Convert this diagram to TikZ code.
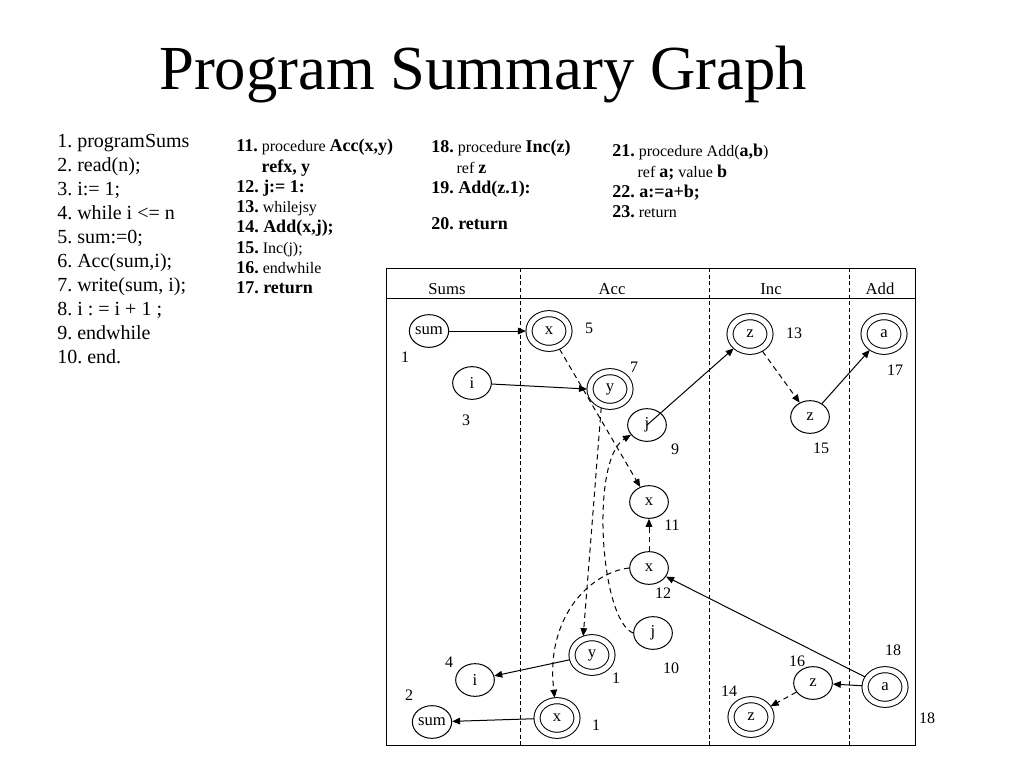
\documentclass[tikz,border=0pt]{standalone}
\usepackage{fontspec}
\setmainfont{Liberation Serif}
\usetikzlibrary{shapes.geometric,arrows.meta,positioning}
\newcommand{\B}[1]{{\fontsize{13.5}{15.2}\selectfont\bfseries #1}}
\frenchspacing

\begin{document}
\begin{tikzpicture}[
  x=0.75pt, y=-0.75pt,
  var/.style={ellipse, draw, line width=0.75pt, minimum width=29pt, minimum height=24.5pt, inner sep=0pt, font=\fontsize{12.5}{13}\selectfont},
  formal/.style={var, double, double distance=3.8pt, minimum width=30pt, minimum height=26pt, outer sep=2.3pt},
  lbl/.style={font=\fontsize{12}{14}\selectfont, inner sep=0pt},
  head/.style={font=\fontsize{12.5}{14}\selectfont, inner sep=0pt},
  flow/.style={draw, line width=0.75pt, -{Triangle[length=6pt,width=5pt]}},
  summ/.style={flow, dash pattern=on 4pt off 3pt},
  code/.style={anchor=north west, align=left, inner sep=0pt}
]
\useasboundingbox (0,0) rectangle (1024,768);

% title and source text
\node[font=\fontsize{47}{56}\selectfont] (title) at (483,75) {Program Summary Graph};
\node[code, font=\fontsize{15}{18}\selectfont] (prog) at (57,134) {1. programSums\\2. read(n);\\3. i:= 1;\\4. while i <= n\\5. sum:=0;\\6. Acc(sum,i);\\7. write(sum, i);\\8. i : = i + 1 ;\\9. endwhile\\10. end.};
\node[code, font=\fontsize{12}{15.2}\selectfont] (acc) at (236,139) {\B{11.} procedure \B{Acc(x,y)}\\\hspace{19pt}\B{refx, y}\\\B{12. j:= 1:}\\\B{13.} whilejsy\\\B{14. Add(x,j);}\\\B{15.} Inc(j);\\\B{16.} endwhile\\\B{17. return}};
\node[code, font=\fontsize{12}{15.2}\selectfont] (inc) at (431,140) {\B{18.} procedure \B{Inc(z)}\\\hspace{19pt}ref \B{z}\\\B{19. Add(z.1):}\\[12pt]\B{20. return}};
\node[code, font=\fontsize{12}{15.2}\selectfont] (add) at (612,144) {\B{21.} procedure Add(\B{a,b})\\\hspace{19pt}ref \B{a;} value \B{b}\\\B{22. a:=a+b;}\\\B{23.} return};

% frame
\draw[line width=0.7pt] (386,268) rectangle (915,745);
\draw[line width=0.7pt] (386,298) -- (915,298);
\foreach \xx in {520,709,849}
  \draw[dash pattern=on 3pt off 2pt, line width=0.5pt] (\xx,268) -- (\xx,745);
\node[head] (hsums) at (447,289) {Sums};
\node[head] (hacc) at (612,289) {Acc};
\node[head] (hinc) at (771,289) {Inc};
\node[head] (hadd) at (880,289) {Add};

% Sums
\node[var] (sum1) at (429,331) {sum};
\node[var] (i3) at (472,383) {i};
\node[var] (i4) at (475,680) {i};
\node[var] (sum2) at (432,722) {sum};
% Acc
\node[formal] (x5) at (549,331) {x};
\node[formal] (y7) at (610,389) {y};
\node[var] (j9) at (647,425) {j};
\node[var] (x11) at (649,502) {x};
\node[var] (x12) at (649,568) {x};
\node[var] (j10) at (653,633) {j};
\node[formal] (y1) at (592,655) {y};
\node[formal] (x1) at (557,718) {x};
% Inc
\node[formal] (z13) at (750,334) {z};
\node[var] (z15) at (810,417) {z};
\node[var] (z16) at (813,683) {z};
\node[formal] (z14) at (751,717) {z};
% Add
\node[formal] (a17) at (884,334) {a};
\node[formal] (a18) at (885,687) {a};

% numbers
\node[lbl] (n1) at (405,357) {1};
\node[lbl] (n3) at (466,420) {3};
\node[lbl] (n5) at (589,328) {5};
\node[lbl] (n7) at (634,367) {7};
\node[lbl] (n9) at (675,449) {9};
\node[lbl] (n11) at (672,525) {11};
\node[lbl] (n12) at (663,593) {12};
\node[lbl] (n10) at (671,668) {10};
\node[lbl] (n1b) at (616,678) {1};
\node[lbl] (n4) at (449,662) {4};
\node[lbl] (n2) at (409,695) {2};
\node[lbl] (n1c) at (596,725) {1};
\node[lbl] (n13) at (794,333) {13};
\node[lbl] (n15) at (821,448) {15};
\node[lbl] (n17) at (895,370) {17};
\node[lbl] (n16) at (797,661) {16};
\node[lbl] (n14) at (729,691) {14};
\node[lbl] (n18) at (893,650) {18};
\node[lbl] (n18b) at (927,718) {18};

% edges
\draw[flow] (sum1) -- (x5);
\draw[flow] (i3) -- (y7.180);
\draw[summ] (x5) -- (x11);
\draw[summ] (y7.245) -- (y1.115);
\draw[summ] (j10.west) .. controls (600,620) and (590,460) .. (j9);
\draw[summ] (x12) -- (x11);
\draw[summ] (x12.west) .. controls (592,572) and (545,615) .. (x1);
\draw[flow] (j9.center) -- (z13);
\draw[summ] (z13) -- (z15);
\draw[flow] (z15) -- (a17);
\draw[flow] (a18) -- (x12);
\draw[flow] (a18) -- (z16);
\draw[summ] (z16) -- (z14);
\draw[flow] (y1) -- (i4);
\draw[flow] (x1) -- (sum2);
\end{tikzpicture}
\end{document}
